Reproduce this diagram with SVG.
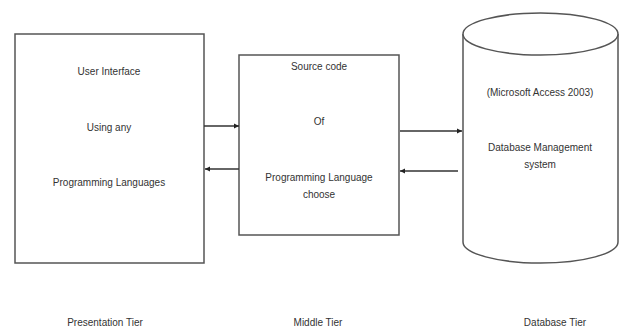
<svg xmlns="http://www.w3.org/2000/svg" width="620" height="331" viewBox="0 0 620 331">
<defs>
<marker id="ah" viewBox="0 0 10 10" refX="10" refY="5" markerWidth="4" markerHeight="4" orient="auto-start-reverse">
<path d="M0,0 L10,5 L0,10 z" fill="#222"/>
</marker>
<style>
.box{fill:#fff;stroke:#555;stroke-width:1.5}
.t{font-family:"Liberation Sans",Arial,sans-serif;font-size:10px;fill:#333;text-anchor:middle}
.c{stroke:#333;stroke-width:1.3;fill:none}
</style>
</defs>
<rect width="620" height="331" fill="#fff"/>
<g id="presentation">
<rect class="box" x="15" y="34" width="189" height="229"/>
<text class="t" x="109" y="75">User Interface</text>
<text class="t" x="109" y="131">Using any</text>
<text class="t" x="109" y="186">Programming Languages</text>
</g>
<g id="middle">
<rect class="box" x="239" y="55" width="160" height="180"/>
<text class="t" x="319" y="70">Source code</text>
<text class="t" x="319" y="125">Of</text>
<text class="t" x="319" y="181">Programming Language</text>
<text class="t" x="319" y="198">choose</text>
</g>
<g id="database">
<path class="box" d="M463,34 L463,242 A77.5,21 0 0 0 618,242 L618,34"/>
<ellipse class="box" cx="540.5" cy="34" rx="77.5" ry="21"/>
<text class="t" x="540" y="96">(Microsoft Access 2003)</text>
<text class="t" x="540" y="151">Database Management</text>
<text class="t" x="540" y="168">system</text>
</g>
<g id="connectors">
<line class="c" x1="204" y1="126" x2="239" y2="126" marker-end="url(#ah)"/>
<line class="c" x1="239" y1="169" x2="205" y2="169" marker-end="url(#ah)"/>
<line class="c" x1="400" y1="131" x2="462" y2="131" marker-end="url(#ah)"/>
<line class="c" x1="458" y1="171" x2="400" y2="171" marker-end="url(#ah)"/>
</g>
<g id="labels">
<text class="t" x="105" y="326" font-size="9">Presentation Tier</text>
<text class="t" x="318" y="326" font-size="9">Middle Tier</text>
<text class="t" x="555" y="326" font-size="9">Database Tier</text>
</g>
</svg>
